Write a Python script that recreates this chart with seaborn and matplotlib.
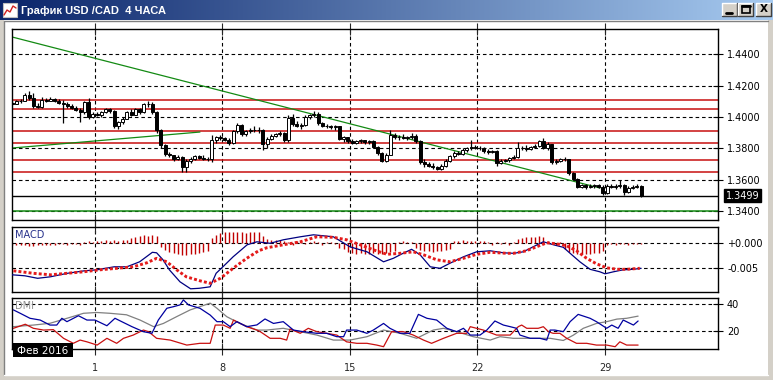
import numpy as np
import matplotlib
matplotlib.use("Agg")
import matplotlib.pyplot as plt
from matplotlib.patches import Rectangle
from matplotlib import transforms
import seaborn as sns

# ---------------- data ----------------
# 4h candles, index 0..148 (Feb 1 starts at index 20)
opens = [1.4090, 1.4085, 1.4100, 1.4105, 1.4140, 1.4120, 1.4070, 1.4065, 1.4110, 1.4105,
         1.4115, 1.4100, 1.4090, 1.4085, 1.4070, 1.4060, 1.4045, 1.4030, 1.4095, 1.4000,
         1.4020, 1.4015, 1.4030, 1.4050, 1.4035, 1.3940, 1.3965, 1.3990, 1.4030, 1.4015,
         1.4050, 1.4030, 1.4080, 1.4085, 1.4030, 1.3920, 1.3820, 1.3765, 1.3755, 1.3735,
         1.3745, 1.3680, 1.3720, 1.3735, 1.3750, 1.3740, 1.3735, 1.3730, 1.3850, 1.3870,
         1.3865, 1.3855, 1.3835, 1.3910, 1.3950, 1.3890, 1.3910, 1.3920, 1.3915, 1.3920,
         1.3830, 1.3860, 1.3880, 1.3890, 1.3900, 1.3850, 1.3995, 1.3955, 1.3945, 1.3950,
         1.4000, 1.4010, 1.4020, 1.3960, 1.3945, 1.3940, 1.3935, 1.3940, 1.3860, 1.3870,
         1.3845, 1.3835, 1.3845, 1.3850, 1.3840, 1.3845, 1.3810, 1.3770, 1.3720, 1.3760,
         1.3885, 1.3870, 1.3875, 1.3865, 1.3870, 1.3880, 1.3845, 1.3710, 1.3700, 1.3690,
         1.3680, 1.3670, 1.3690, 1.3720, 1.3750, 1.3770, 1.3765, 1.3790, 1.3800, 1.3810,
         1.3805, 1.3800, 1.3780, 1.3775, 1.3785, 1.3705, 1.3720, 1.3725, 1.3740, 1.3745,
         1.3800, 1.3805, 1.3795, 1.3810, 1.3815, 1.3845, 1.3805, 1.3825, 1.3715, 1.3720,
         1.3735, 1.3730, 1.3640, 1.3605, 1.3555, 1.3565, 1.3555, 1.3560, 1.3565, 1.3555,
         1.3515, 1.3560, 1.3555, 1.3560, 1.3565, 1.3520, 1.3550, 1.3555, 1.3560]
highs = [1.4105, 1.4110, 1.4115, 1.4150, 1.4165, 1.4150, 1.4090, 1.4130, 1.4120, 1.4125,
         1.4120, 1.4115, 1.4110, 1.4095, 1.4080, 1.4070, 1.4060, 1.4105, 1.4120, 1.4030,
         1.4030, 1.4040, 1.4060, 1.4060, 1.4045, 1.3975, 1.4000, 1.4040, 1.4050, 1.4060,
         1.4060, 1.4090, 1.4100, 1.4095, 1.4035, 1.3925, 1.3830, 1.3775, 1.3760, 1.3760,
         1.3750, 1.3730, 1.3745, 1.3760, 1.3760, 1.3755, 1.3745, 1.3885, 1.3880, 1.3885,
         1.3875, 1.3865, 1.3920, 1.3960, 1.3955, 1.3920, 1.3930, 1.3940, 1.3935, 1.3925,
         1.3870, 1.3890, 1.3900, 1.3910, 1.3905, 1.4010, 1.4020, 1.3975, 1.3960, 1.4010,
         1.4020, 1.4035, 1.4030, 1.3970, 1.3955, 1.3950, 1.3950, 1.3945, 1.3880, 1.3875,
         1.3860, 1.3850, 1.3860, 1.3855, 1.3850, 1.3850, 1.3815, 1.3775, 1.3770, 1.3920,
         1.3895, 1.3885, 1.3890, 1.3880, 1.3900, 1.3890, 1.3850, 1.3730, 1.3715, 1.3705,
         1.3690, 1.3700, 1.3730, 1.3760, 1.3780, 1.3780, 1.3800, 1.3810, 1.3850, 1.3820,
         1.3815, 1.3810, 1.3795, 1.3790, 1.3790, 1.3730, 1.3735, 1.3745, 1.3760, 1.3840,
         1.3815, 1.3820, 1.3815, 1.3825, 1.3850, 1.3865, 1.3840, 1.3830, 1.3730, 1.3740,
         1.3745, 1.3735, 1.3650, 1.3610, 1.3575, 1.3570, 1.3570, 1.3575, 1.3575, 1.3565,
         1.3570, 1.3575, 1.3570, 1.3595, 1.3570, 1.3560, 1.3565, 1.3570, 1.3565]
lows = [1.4075, 1.4080, 1.4090, 1.4100, 1.4110, 1.4060, 1.4055, 1.4060, 1.4095, 1.4100,
        1.4095, 1.4080, 1.3960, 1.4060, 1.4050, 1.4035, 1.3970, 1.4020, 1.3990, 1.3995,
        1.4005, 1.4000, 1.4025, 1.4025, 1.3930, 1.3925, 1.3955, 1.3985, 1.4005, 1.4010,
        1.4020, 1.4025, 1.4065, 1.4020, 1.3900, 1.3800, 1.3750, 1.3745, 1.3720, 1.3725,
        1.3650, 1.3650, 1.3705, 1.3725, 1.3730, 1.3725, 1.3720, 1.3715, 1.3835, 1.3855,
        1.3845, 1.3820, 1.3825, 1.3900, 1.3880, 1.3880, 1.3900, 1.3905, 1.3900, 1.3790,
        1.3805, 1.3850, 1.3870, 1.3880, 1.3840, 1.3840, 1.3940, 1.3935, 1.3925, 1.3945,
        1.3990, 1.4000, 1.3950, 1.3935, 1.3930, 1.3925, 1.3920, 1.3850, 1.3840, 1.3835,
        1.3825, 1.3825, 1.3835, 1.3830, 1.3830, 1.3800, 1.3760, 1.3710, 1.3710, 1.3755,
        1.3860, 1.3855, 1.3860, 1.3855, 1.3860, 1.3835, 1.3700, 1.3680, 1.3680, 1.3670,
        1.3660, 1.3665, 1.3680, 1.3710, 1.3740, 1.3755, 1.3760, 1.3775, 1.3790, 1.3795,
        1.3790, 1.3770, 1.3765, 1.3770, 1.3690, 1.3700, 1.3710, 1.3715, 1.3730, 1.3740,
        1.3790, 1.3785, 1.3790, 1.3800, 1.3810, 1.3795, 1.3790, 1.3700, 1.3700, 1.3710,
        1.3720, 1.3630, 1.3595, 1.3545, 1.3545, 1.3540, 1.3545, 1.3550, 1.3545, 1.3505,
        1.3510, 1.3545, 1.3540, 1.3550, 1.3500, 1.3515, 1.3540, 1.3545, 1.3490]
closes = [1.4085, 1.4100, 1.4105, 1.4140, 1.4120, 1.4070, 1.4065, 1.4110, 1.4105, 1.4115,
          1.4100, 1.4090, 1.4085, 1.4070, 1.4060, 1.4045, 1.4030, 1.4095, 1.4000, 1.4020,
          1.4015, 1.4030, 1.4050, 1.4035, 1.3940, 1.3965, 1.3990, 1.4030, 1.4015, 1.4050,
          1.4030, 1.4080, 1.4085, 1.4030, 1.3920, 1.3820, 1.3765, 1.3755, 1.3735, 1.3745,
          1.3680, 1.3720, 1.3735, 1.3750, 1.3740, 1.3735, 1.3730, 1.3850, 1.3870, 1.3865,
          1.3855, 1.3835, 1.3910, 1.3950, 1.3890, 1.3910, 1.3920, 1.3915, 1.3920, 1.3830,
          1.3860, 1.3880, 1.3890, 1.3900, 1.3850, 1.3995, 1.3955, 1.3945, 1.3950, 1.4000,
          1.4010, 1.4020, 1.3960, 1.3945, 1.3940, 1.3935, 1.3940, 1.3860, 1.3870, 1.3845,
          1.3835, 1.3845, 1.3850, 1.3840, 1.3845, 1.3810, 1.3770, 1.3720, 1.3760, 1.3885,
          1.3870, 1.3875, 1.3865, 1.3870, 1.3880, 1.3845, 1.3710, 1.3700, 1.3690, 1.3680,
          1.3670, 1.3690, 1.3720, 1.3750, 1.3770, 1.3765, 1.3790, 1.3800, 1.3810, 1.3805,
          1.3800, 1.3780, 1.3775, 1.3785, 1.3705, 1.3720, 1.3725, 1.3740, 1.3745, 1.3800,
          1.3805, 1.3795, 1.3810, 1.3815, 1.3845, 1.3805, 1.3825, 1.3715, 1.3720, 1.3735,
          1.3730, 1.3640, 1.3605, 1.3555, 1.3565, 1.3555, 1.3560, 1.3565, 1.3555, 1.3515,
          1.3560, 1.3555, 1.3560, 1.3565, 1.3520, 1.3550, 1.3555, 1.3560, 1.3499]

red_levels = [1.4108, 1.4049, 1.3912, 1.3834, 1.3724, 1.3647]
last_price = 1.3499
support_level = 1.3400
trend_down_x = [0, 138.3]
trend_down_y = [1.4510, 1.3547]
trend_up_x = [0, 44.2]
trend_up_y = [1.3802, 1.3904]

price_ticks = [1.34, 1.36, 1.38, 1.40, 1.42, 1.44]
day_pos = [19.5, 49.5, 79.5, 109.5, 139.5]
day_labels = ["1", "8", "15", "22", "29"]

# MACD (units of 1e-4)
macd_x = [0, 3, 6, 9, 13, 17, 20, 24, 27, 30, 33, 34, 35.5, 37, 39.5, 42, 44, 46.6, 48, 49.6,
          52, 55.3, 57.6, 60.7, 63.8, 67.8, 70.9, 75.6, 79.5, 83.5, 87.4, 89.7, 92, 94, 96,
          98.4, 100.7, 103, 106.2, 109.3, 112.5, 115.6, 118, 120.3, 122.6, 125, 127.4, 129.7,
          131.3, 133.6, 136, 138.3, 139.5, 141.5, 143.8, 146.2, 148]
macd_v = [-63, -65, -70, -67, -60, -55, -53, -47, -47, -37, -18, -19, -33, -53, -77, -91, -90,
          -87, -60, -47, -27, -3, 3, 0, 7, 13, 17, 13, -7, -17, -37, -30, -20, -12, -23, -47,
          -50, -40, -27, -17, -15, -19, -20, -17, -7, 3, -3, -8, -20, -37, -52, -57, -61, -57,
          -53, -52, -50]
signal_x = [0.3, 5, 9, 12.9, 16.8, 20.7, 24.6, 28.5, 31.7, 34, 36.4, 38.7, 41, 44.2, 46.6, 49,
            52, 55.2, 58, 59.9, 63.8, 67.8, 71.7, 75.6, 78.7, 81.9, 85, 88.2, 91.3, 94.4, 96.8,
            99.9, 103, 106.2, 109.3, 112.5, 116.4, 118, 121, 123.4, 125.8, 128.1, 130.5, 132.8,
            135.2, 137.5, 139.9, 142.3, 144.6, 147.7]
signal_v = [-55, -60, -63, -60, -57, -53, -50, -47, -39, -30, -37, -53, -67, -75, -80, -70, -50,
            -30, -15, -9, -3, 3, 13, 12, 7, -3, -13, -22, -20, -17, -23, -33, -37, -30, -22, -18,
            -20, -20, -15, -7, 1, -1, -5, -15, -30, -41, -49, -52, -52, -50]
hist_v = [-4, -4, -3, -4, -5, -5, -4, -3, -4, -3, -3, -2, -2, -3, -2, -2, -3,
          3, 4, 3, 5, 4, 6, 5, 6, 5, 6, 7,
          10, 12, 14, 16, 15, 16, 14,
          -8, -14, -18, -20, -22, -23, -23, -22, -21, -20, -18, -15,
          10, 16, 20, 22, 23, 22, 23, 22, 21, 23, 22, 23,
          14, 8, 6, 7, 6, 5,
          3, -3, 4, 3, -2, 3, 4, 3, -3, 2, 3, -2,
          -10, -12, -18, -20, -21, -20, -22, -21, -20, -22, -21, -19, -18, -16,
          3, 4, 3, 2,
          -10, -14, -16, -16, -17, -16, -15, -14, -12,
          4, 5, 6, 5, 5, 4, 5, 4,
          3, -3, 3, -2, 2, -3, 2,
          8, 10, 12, 13, 13, 14, 12,
          4, 3, -3, 2,
          -12, -18, -20, -22, -22, -21, -22, -20, -19, -16,
          -3, -2, -3, -2, -2, -3, -2, -2, -2]

# DMI
dmi_blue_x = [0.3, 1.9, 4.2, 6.6, 8.9, 10.5, 11.7, 12.9, 15.6, 17.6, 19.5, 22.3, 24.2, 25.8, 28.2,
              30.9, 32.9, 34.4, 36.4, 38, 39.5, 40.3, 41.5, 44.2, 46.6, 48.2, 49.7, 51.3, 52.9,
              55.2, 57.6, 59.5, 61.5, 63.8, 66.2, 68.5, 71.7, 74, 76.4, 78, 78.7, 81.1, 83.5, 85,
              87.4, 88.9, 91.3, 93.6, 95.6, 97.6, 99.9, 102.3, 104.6, 106.2, 107.8, 110.1, 111.7,
              113.6, 115.6, 117.2, 118.7, 119.5, 121.9, 124.2, 125.8, 126.6, 127.7, 129.7, 131.3,
              133.2, 136, 137.5, 139.9, 141.1, 142.6, 143.8, 146.2, 147.3]
dmi_blue_v = [35.6, 33.1, 29.4, 28.1, 24.4, 24.4, 29.4, 26.9, 31.3, 28.1, 28.1, 23.9, 29.4, 26.9,
              23.2, 19.5, 18.3, 28.1, 36.8, 38, 39.3, 43, 39.3, 36.8, 31.8, 26.9, 26.9, 23.2, 26.9,
              23.2, 24.5, 28.9, 25.6, 26.9, 20.7, 19.5, 18.3, 18.3, 15.8, 15.8, 20.7, 20.7, 18.3,
              20.7, 25.6, 22, 18.3, 18.3, 32.3, 29.4, 28.1, 22, 19.5, 22, 17, 17, 20.7, 27.4, 24.4,
              23.2, 22, 17, 14.6, 14.6, 13.3, 20.7, 20.7, 19.5, 26.9, 32.3, 29.4, 26.9, 22, 24.4,
              22, 28.1, 24.4, 27.4]
dmi_red_x = [0.3, 3.1, 5, 7.4, 9.7, 12.1, 14.4, 16, 17.6, 20, 22.3, 24.6, 26.2, 28.5, 30.9, 32.1,
             34, 37.2, 41.1, 44.2, 46.6, 47.8, 49.7, 51.3, 52.1, 55.2, 57.6, 58.4, 60.7, 63.1,
             64.6, 65.4, 67.8, 69.7, 71.7, 74, 76.4, 78.7, 81.1, 83.5, 85.8, 87.4, 89.3, 92.1,
             94.4, 96.8, 98.7, 101.5, 104.6, 107, 107.8, 110.9, 114, 117.2, 119.1, 119.9, 121.1,
             122.6, 123.8, 125, 126.2, 127.3, 128.9, 130.5, 132.8, 135.2, 137.5, 139.9, 141.9,
             143, 144.6, 147.3]
dmi_red_v = [22, 25, 22, 20.7, 21, 14.6, 10.9, 13.3, 12, 9.6, 14.6, 10.9, 14.6, 17, 20.7, 19.5,
             14.6, 13.3, 9.6, 10.9, 10.9, 24.4, 24.4, 22, 28.1, 23.2, 20.7, 19.5, 14.6, 14.6,
             13.3, 21.5, 18.3, 22, 19.5, 18.3, 17, 12, 10.9, 10.9, 9.6, 8.4, 19.5, 19.5, 17, 13.3,
             10.9, 14.6, 18.3, 18.3, 23.2, 20.7, 17, 17, 23.2, 24.4, 22, 22, 22, 23.2, 19.5, 18.3,
             18.3, 14.6, 10.9, 10.9, 9.6, 9.6, 8.4, 12, 9.6, 9.6]
adx_x = [0.3, 5, 8.9, 12.9, 16.8, 19.9, 23, 26.9, 30.1, 33.3, 35.6, 38.7, 41.9, 44.2, 46.6, 48.2,
         50.5, 53.6, 57.6, 59.9, 63.8, 67.8, 71.7, 75.6, 79.5, 83.5, 87.4, 91.3, 95.2, 99.1,
         101.5, 104.6, 108.5, 112.5, 114.8, 117.9, 122.6, 126.6, 129.7, 132.1, 134.4, 137.5,
         139.9, 142.3, 144.6, 147.3]
adx_v = [23.2, 24.4, 25.7, 29.4, 33.1, 33.7, 33.1, 32, 28.1, 23.2, 25.6, 30.6, 35.6, 38, 40.6,
         36.8, 30.6, 25.6, 20.7, 20.7, 22, 19.5, 17, 13.3, 13.3, 15.8, 20.7, 18.3, 14.6, 20.7, 22,
         19.5, 15.8, 13.3, 15.8, 14.6, 14.6, 14.6, 13, 17, 22, 25.6, 26.9, 28.8, 29.4, 31]

# ---------------- figure ----------------
sns.set_style("white", {"axes.edgecolor": "black"})
plt.rcParams["font.family"] = ["DejaVu Sans"]

W, H = 773, 380
fig = plt.figure(figsize=(W / 100, H / 100), dpi=100, facecolor="white")


def box(x0, y0, x1, y1):
    return [x0 / W, 1 - y1 / H, (x1 - x0) / W, (y1 - y0) / H]


XLIM = (-0.03, 166.1)
GRID = dict(color="black", linestyle=(0, (3.2, 2.6)), linewidth=0.8)


def style_panel(ax, ylim, yticks, ylabels, show_x=False):
    ax.set_xlim(*XLIM)
    ax.set_ylim(*ylim)
    ax.set_xticks(day_pos)
    ax.set_xticklabels(day_labels if show_x else [])
    ax.set_yticks(yticks)
    ax.set_yticklabels(ylabels)
    ax.yaxis.tick_right()
    ax.tick_params(axis="y", direction="inout", length=7, width=0.8, labelsize=7,
                   pad=3, left=False, right=True, colors="black")
    ax.tick_params(axis="x", direction="inout", length=8, width=0.8, labelsize=7,
                   top=True, bottom=True, labelbottom=show_x, pad=6)
    ax.grid(True, **GRID)
    ax.set_axisbelow(True)
    for s in ax.spines.values():
        s.set_visible(True)
        s.set_color("black")
        s.set_linewidth(1)
    ax.set_xlabel("")
    ax.set_ylabel("")


# --- price panel ---
ax = fig.add_axes(box(12, 29, 718, 220))
idx = np.arange(len(closes))
o, hi, lo, c = map(np.array, (opens, highs, lows, closes))
for lvl in red_levels:
    ax.axhline(lvl, color="#c81010", lw=1.1, zorder=1.5)
ax.axhline(last_price, color="black", lw=1, zorder=1.5)
ax.axhline(support_level, color="#138a13", lw=1.1, zorder=1.6)
ax.plot(trend_down_x, trend_down_y, color="#138a13", lw=0.9, zorder=1.6)
ax.plot(trend_up_x, trend_up_y, color="#138a13", lw=0.9, zorder=1.6)
ax.vlines(idx, lo, hi, color="black", lw=0.9, zorder=3)
up = c >= o
ax.bar(idx[up], (c - o)[up], bottom=o[up], width=0.72, color="white",
       edgecolor="black", linewidth=0.7, zorder=4)
ax.bar(idx[~up], (c - o)[~up], bottom=o[~up], width=0.72, color="black",
       edgecolor="black", linewidth=0.7, zorder=4)
style_panel(ax, (1.3343, 1.4561), price_ticks, [f"{t:.4f}" for t in price_ticks])
blend = transforms.blended_transform_factory(ax.transAxes, ax.transData)
ax.text(1.0, last_price, "1.3499", transform=transforms.offset_copy(blend, fig=fig, x=8, y=0, units="dots"),
        color="white", fontsize=7, va="center", ha="left",
        bbox=dict(boxstyle="square,pad=0.18", facecolor="black", edgecolor="black"), zorder=10)

# --- MACD panel ---
mx = fig.add_axes(box(12, 227, 718, 292))
mx.vlines(idx, 0, np.array(hist_v) * 1e-4, color="#c00000", lw=1, zorder=2)
sns.lineplot(x=macd_x, y=np.array(macd_v) * 1e-4, ax=mx, color="#000080", lw=0.9,
             errorbar=None, zorder=3)
mx.plot(signal_x, np.array(signal_v) * 1e-4, color="#e41b1b", lw=2.1,
        linestyle=(0, (1.0, 0.75)), zorder=4)
style_panel(mx, (-97.4e-4, 32.6e-4), [0, -0.005], ["+0.000", "-0.005"])
mx.text(0.004, 0.96, "MACD", transform=mx.transAxes, fontsize=7, color="#28328c",
        va="top", ha="left")

# --- DMI panel ---
dx = fig.add_axes(box(12, 298, 718, 349))
sns.lineplot(x=adx_x, y=adx_v, ax=dx, color="#808080", lw=0.9, errorbar=None)
sns.lineplot(x=dmi_red_x, y=dmi_red_v, ax=dx, color="#c81010", lw=0.9, errorbar=None)
sns.lineplot(x=dmi_blue_x, y=dmi_blue_v, ax=dx, color="#0000a0", lw=0.9, errorbar=None)
style_panel(dx, (6.7, 44.4), [20, 40], ["20", "40"], show_x=True)
dx.text(0.004, 0.95, "DMI", transform=dx.transAxes, fontsize=7, color="#909090",
        va="top", ha="left")

# --- window chrome overlay (pixel coordinates) ---
ov = fig.add_axes([0, 0, 1, 1], zorder=20)
ov.set_xlim(0, W)
ov.set_ylim(H, 0)
ov.axis("off")
ov.patch.set_alpha(0)

grad = np.linspace(0, 1, 256)
c0 = np.array([10, 36, 106]) / 255
c1 = np.array([166, 202, 240]) / 255
img = (c0[None, :] * (1 - grad[:, None]) + c1[None, :] * grad[:, None])[None, :, :]
ov.imshow(img, extent=(0, W, 20, 0), aspect="auto", interpolation="bilinear", zorder=1)
ov.set_xlim(0, W)
ov.set_ylim(H, 0)

frame = "#d4d0c8"
ov.add_patch(Rectangle((0, 20), 4, H - 20, facecolor=frame, edgecolor="none", zorder=1))
ov.add_patch(Rectangle((0, 375), W, 5, facecolor=frame, edgecolor="none", zorder=1))
ov.add_patch(Rectangle((768, 20), 5, H - 20, facecolor=frame, edgecolor="none", zorder=1))
ov.plot([3.5, 3.5], [21, 375], color="#808080", lw=1, zorder=2)
ov.plot([3.5, 768], [21, 21], color="#808080", lw=1, zorder=2)
ov.plot([3.5, 768], [375, 375], color="white", lw=1, zorder=2)

# title icon and text
ov.add_patch(Rectangle((3, 3), 14, 14, facecolor="white", edgecolor="#c0c0c0", lw=0.8, zorder=3))
ov.plot([4, 7, 10, 13, 16], [15, 10, 12, 6, 8], color="#d02020", lw=1, zorder=4)
ov.text(21, 10.5, "График USD /CAD  4 ЧАСА", color="white", fontsize=8, fontweight="bold",
        va="center", ha="left", family=["Liberation Sans", "DejaVu Sans"], zorder=4)

# window buttons
for bx in (722, 738, 756):
    ov.add_patch(Rectangle((bx, 3), 15, 12.5, facecolor=frame, edgecolor="none", zorder=3))
    ov.plot([bx, bx, bx + 15], [15.5, 3, 3], color="white", lw=1, zorder=4)
    ov.plot([bx, bx + 15, bx + 15], [15.5, 15.5, 3], color="#404040", lw=1, zorder=4)
ov.plot([726, 732], [12.5, 12.5], color="black", lw=2, zorder=5)
ov.add_patch(Rectangle((742, 5.5), 8, 7.5, facecolor="none", edgecolor="black", lw=1.2, zorder=5))
ov.plot([742, 750], [6, 6], color="black", lw=2, zorder=5)
ov.text(763.5, 9.5, "X", color="black", fontsize=7.5, fontweight="bold",
        ha="center", va="center", zorder=5)

# date badge
ov.add_patch(Rectangle((12.5, 343), 60.5, 14, facecolor="black", edgecolor="none", zorder=6))
ov.text(42.5, 350.5, "Фев 2016", color="white", fontsize=7.5, ha="center", va="center", zorder=7)

fig.savefig("out.png", dpi=100, facecolor="white")
